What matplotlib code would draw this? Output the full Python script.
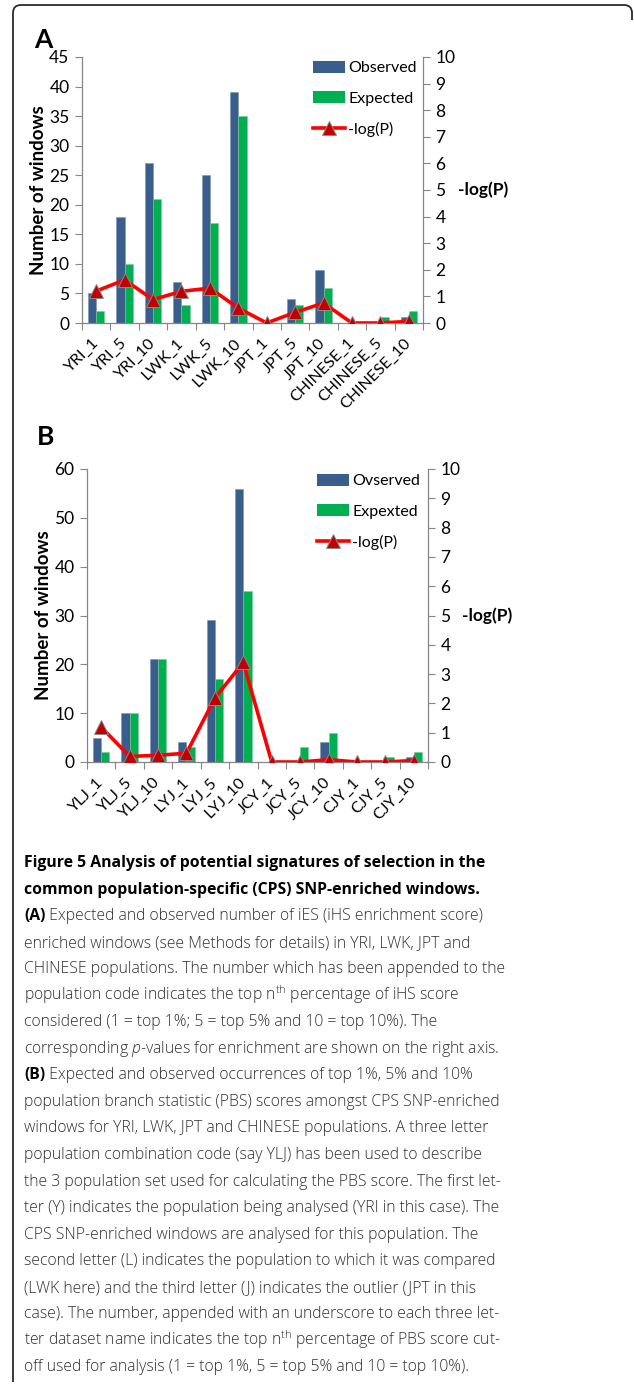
import matplotlib
matplotlib.use("Agg")
import matplotlib.pyplot as plt
import matplotlib.transforms as mtransforms
import numpy as np
from matplotlib.lines import Line2D
from matplotlib.patches import Patch, PathPatch
from matplotlib.path import Path

# panel A: iES enriched windows
labels_a = ["YRI_1", "YRI_5", "YRI_10", "LWK_1", "LWK_5", "LWK_10",
            "JPT_1", "JPT_5", "JPT_10", "CHINESE_1", "CHINESE_5", "CHINESE_10"]
observed_a = [5, 18, 27, 7, 25, 39, 0, 4, 9, 0, 0, 1]
expected_a = [2, 10, 21, 3, 17, 35, 0, 3, 6, 0, 1, 2]
logp_a = [1.2, 1.62, 0.88, 1.19, 1.31, 0.56, 0.0, 0.4, 0.75, 0.0, 0.0, 0.06]

# panel B: PBS score occurrences
labels_b = ["YLJ_1", "YLJ_5", "YLJ_10", "LYJ_1", "LYJ_5", "LYJ_10",
            "JCY_1", "JCY_5", "JCY_10", "CJY_1", "CJY_5", "CJY_10"]
observed_b = [5, 10, 21, 4, 29, 56, 0, 0, 4, 0, 0, 1]
expected_b = [2, 10, 21, 3, 17, 35, 0, 3, 6, 0, 1, 2]
logp_b = [1.19, 0.19, 0.23, 0.3, 2.18, 3.4, 0.0, 0.0, 0.08, 0.0, 0.0, 0.05]

BLUE = "#3A5E8C"
GREEN = "#00B050"
RED = "#FF0000"
DARK_RED = "#C00000"
AXIS_GRAY = "#868686"

W, H = 634, 1384
plt.rcParams["font.family"] = ["Lato", "DejaVu Sans"]
plt.rcParams["mathtext.fontset"] = "custom"
plt.rcParams["mathtext.rm"] = "Open Sans:light"
plt.rcParams["mathtext.it"] = "Open Sans:light:italic"

fig = plt.figure(figsize=(W / 100, H / 100), dpi=100)


def px_rect(x0, y0, x1, y1):
    # pixel box (top-left origin) -> figure fraction rect
    return [x0 / W, 1 - y1 / H, (x1 - x0) / W, (y1 - y0) / H]


def draw_panel(rect, labels, observed, expected, logp, ymax, ystep,
               names, legend_xy, letter, letter_xy, ylabel_x, rlabel_x):
    ax = fig.add_axes(px_rect(*rect))
    x = np.arange(len(labels))
    w = 0.29
    ax.bar(x - w, observed, w, align="edge", color=BLUE,
           edgecolor="#7f93ad", linewidth=0.4, zorder=2)
    ax.bar(x, expected, w, align="edge", color=GREEN,
           edgecolor="#7fc79f", linewidth=0.4, zorder=2)
    ax.set_xlim(-0.5, len(labels) - 0.5)
    ax.set_ylim(0, ymax)
    ax.set_yticks(np.arange(0, ymax + 1, ystep))
    ax.set_xticks(np.arange(-0.5, len(labels)))
    ax.set_xticklabels([])
    ax.set_xticks(x, minor=True)
    ax.set_xticklabels(labels, minor=True, rotation=45, ha="right",
                       va="center", rotation_mode="anchor", fontsize=11.5)
    shift = mtransforms.ScaledTranslation(4 / 100, 0, fig.dpi_scale_trans)
    for t in ax.get_xticklabels(minor=True):
        t.set_transform(t.get_transform() + shift)
    ax.tick_params(axis="x", which="minor", length=0, pad=13)
    ax.tick_params(axis="x", which="major", length=5, color=AXIS_GRAY,
                   direction="out")
    ax.tick_params(axis="y", length=5, color=AXIS_GRAY, labelsize=12.5,
                   pad=4)
    for s in ["top", "right"]:
        ax.spines[s].set_visible(False)
    for s in ["left", "bottom"]:
        ax.spines[s].set_color(AXIS_GRAY)
        ax.spines[s].set_linewidth(0.9)

    ax2 = ax.twinx()
    ax2.plot(x, logp, color=RED, lw=2.6, marker="^", ms=9.5,
             mfc=DARK_RED, mec="#8a8a8a", mew=0.7, zorder=3,
             solid_joinstyle="round")
    ax2.set_ylim(0, 10)
    ax2.set_yticks(range(0, 11))
    ax2.tick_params(axis="y", length=5, color=AXIS_GRAY, labelsize=12.5,
                    pad=4)
    for s in ["top", "left", "bottom"]:
        ax2.spines[s].set_visible(False)
    ax2.spines["right"].set_color(AXIS_GRAY)
    ax2.spines["right"].set_linewidth(0.9)

    y_mid = (rect[1] + rect[3]) / 2
    fig.text(ylabel_x / W, 1 - y_mid / H, "Number of windows",
             rotation=90, ha="center", va="center", fontsize=13.5,
             fontweight="bold")
    fig.text(rlabel_x / W, 1 - y_mid / H, "-log(P)", ha="left",
             va="center", fontsize=12.5, fontweight="bold")
    fig.text(letter_xy[0] / W, 1 - letter_xy[1] / H, letter, ha="left",
             va="center", fontsize=19, fontweight="bold")

    handles = [Patch(facecolor=BLUE, edgecolor="none"),
               Patch(facecolor=GREEN, edgecolor="none"),
               Line2D([], [], color=RED, lw=2.6, marker="^", ms=9.5,
                      mfc=DARK_RED, mec="#8a8a8a", mew=0.7)]
    fig.legend(handles, names, loc="upper left",
               bbox_to_anchor=(legend_xy[0] / W, 1 - legend_xy[1] / H),
               frameon=False, fontsize=11.5, handlelength=2.0,
               handleheight=0.75, handletextpad=0.2, labelspacing=1.0,
               borderpad=0, borderaxespad=0)
    return ax


draw_panel((82, 57, 423, 323), labels_a, observed_a, expected_a, logp_a,
           45, 5, ["Observed", "Expected", "-log(P)"], (313, 61),
           "A", (34, 40), 39, 458)
draw_panel((87, 469, 428, 762), labels_b, observed_b, expected_b, logp_b,
           60, 10, ["Ovserved", "Expexted", "-log(P)"], (317, 474),
           "B", (37, 437), 44, 462)

# caption below the charts
CAP_FONT = ["Open Sans", "DejaVu Sans"]
BODY = "#2e2e2e"
caption = [
    [("Figure 5 Analysis of potential signatures of selection in the", "bold")],
    [("common population-specific (CPS) SNP-enriched windows.", "bold")],
    [("(A)", "bold"), (" Expected and observed number of iES (iHS enrichment score)", "light")],
    [("enriched windows (see Methods for details) in YRI, LWK, JPT and", "light")],
    [("CHINESE populations. The number which has been appended to the", "light")],
    [("population code indicates the top n$^{\\mathrm{th}}$ percentage of iHS score", "light")],
    [("considered (1 = top 1%; 5 = top 5% and 10 = top 10%). The", "light")],
    [("corresponding $\\mathit{p}$-values for enrichment are shown on the right axis.", "light")],
    [("(B)", "bold"), (" Expected and observed occurrences of top 1%, 5% and 10%", "light")],
    [("population branch statistic (PBS) scores amongst CPS SNP-enriched", "light")],
    [("windows for YRI, LWK, JPT and CHINESE populations. A three letter", "light")],
    [("population combination code (say YLJ) has been used to describe", "light")],
    [("the 3 population set used for calculating the PBS score. The first let-", "light")],
    [("ter (Y) indicates the population being analysed (YRI in this case). The", "light")],
    [("CPS SNP-enriched windows are analysed for this population. The", "light")],
    [("second letter (L) indicates the population to which it was compared", "light")],
    [("(LWK here) and the third letter (J) indicates the outlier (JPT in this", "light")],
    [("case). The number, appended with an underscore to each three let-", "light")],
    [("ter dataset name indicates the top n$^{\\mathrm{th}}$ percentage of PBS score cut-", "light")],
    [("off used for analysis (1 = top 1%, 5 = top 5% and 10 = top 10%).", "light")],
]

renderer = fig.canvas.get_renderer()
y = 867
for line in caption:
    x = 24
    for txt, weight in line:
        t = fig.text(x / W, 1 - y / H, txt, ha="left", va="baseline",
                     family=CAP_FONT, fontsize=11.35, fontweight=weight,
                     color="black" if weight == "bold" else BODY)
        bb = t.get_window_extent(renderer)
        x = bb.x1
    y += 26.55

# frame around the figure
r = 8
verts = [(13, H - 2), (13, 5 + r), (13, 5), (13 + r, 5), (632 - r, 5),
         (632, 5), (632, 5 + r), (632, 20)]
codes = [Path.MOVETO, Path.LINETO, Path.CURVE3, Path.CURVE3, Path.LINETO,
         Path.CURVE3, Path.CURVE3, Path.LINETO]
verts = [(vx / W, 1 - vy / H) for vx, vy in verts]
fig.add_artist(PathPatch(Path(verts, codes), fill=False, lw=1.3,
                         edgecolor="#2b2b2b", transform=fig.transFigure))

fig.savefig("out.png", dpi=100)
